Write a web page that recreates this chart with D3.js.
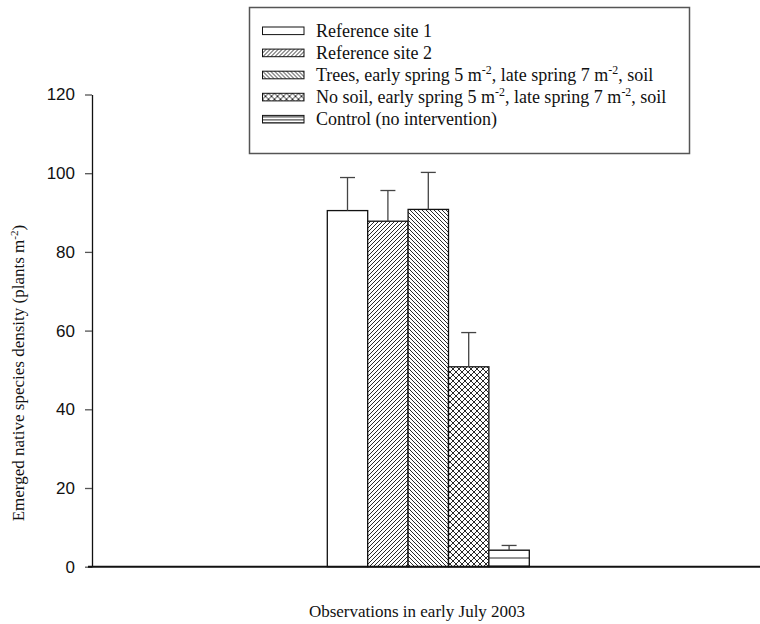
<!DOCTYPE html>
<html>
<head>
<meta charset="utf-8">
<script src="https://cdn.jsdelivr.net/npm/d3@7"></script>
<style>
  body { margin: 0; background: #fff; }
  svg { display: block; }
</style>
</head>
<body>
<svg id="chart" width="760" height="624"></svg>
<script>
// values
var series = [
    "Reference site 1",
    "Reference site 2",
    "Trees, early spring 5 m-2, late spring 7 m-2, soil",
    "No soil, early spring 5 m-2, late spring 7 m-2, soil",
    "Control (no intervention)"
];
var means = [90.5, 87.8, 90.8, 50.8, 4.2];
var errs = [8.4, 7.8, 9.4, 8.7, 1.2];
var fills = ["none", "diagUp", "diagDown", "cross", "hline"];
var yTicks = [0, 20, 40, 60, 80, 100, 120];
var xTitle = "Observations in early July 2003";
var yTitle = "Emerged native species density (plants m-2)";

var svg = d3.select("#chart");
var x0 = 92, x1 = 760;

var scY = d3.scaleLinear().domain([0, 120]).range([566.7, 94.5]);
var scX = d3.scaleBand().domain(series).range([327.3, 529.3]).padding(0);

// hatch patterns
var defs = svg.append("defs");
function pat(id, w, h, d, y) {
    var p = defs.append("pattern").attr("id", id)
        .attr("patternUnits", "userSpaceOnUse")
        .attr("width", w).attr("height", h).attr("y", y || 0);
    p.append("rect").attr("width", w).attr("height", h).attr("fill", "#fff");
    p.append("path").attr("d", d).attr("stroke", "#111").attr("stroke-width", 0.9).attr("fill", "none");
}
pat("diagUp", 4, 4, "M-1,1 l2,-2 M0,4 l4,-4 M3,5 l2,-2");
pat("diagDown", 4, 4, "M-1,3 l2,2 M0,0 l4,4 M3,-1 l2,2");
pat("cross", 6, 6, "M0,0 l6,6 M6,0 l-6,6");
pat("hline", 10, 8, "M0,6 h10", 0);
pat("hlineSmall", 10, 3, "M0,1.5 h10", 0);

function fillOf(f) { return f == "none" ? "#fff" : "url(#" + f + ")"; }

// y axis
var yAxis = svg.append("g")
    .attr("transform", "translate(" + x0 + ",0)")
    .call(d3.axisLeft(scY).tickValues(yTicks).tickSize(7).tickSizeOuter(0).tickPadding(10));
yAxis.select(".domain").attr("stroke", "#111").attr("stroke-width", 1.3);
yAxis.selectAll(".tick line").attr("stroke", "#555").attr("stroke-width", 1.3);
yAxis.selectAll(".tick text")
    .attr("font-family", "Liberation Sans, Arial, sans-serif")
    .attr("font-size", 17).attr("fill", "#111");

// bars
svg.selectAll("rect.bar")
    .data(series)
    .enter()
    .append("rect")
    .attr("class", "bar")
    .attr("x", d => scX(d))
    .attr("width", scX.bandwidth())
    .attr("y", (d, i) => scY(means[i]))
    .attr("height", (d, i) => scY(0) - scY(means[i]))
    .attr("fill", (d, i) => fillOf(fills[i]))
    .attr("stroke", "#111")
    .attr("stroke-width", 1.3);

// error bars (upper only)
var eb = svg.selectAll("g.err").data(series).enter().append("g").attr("class", "err");
eb.append("line")
    .attr("x1", d => scX(d) + scX.bandwidth() / 2).attr("x2", d => scX(d) + scX.bandwidth() / 2)
    .attr("y1", (d, i) => scY(means[i])).attr("y2", (d, i) => scY(means[i] + errs[i]))
    .attr("stroke", "#444").attr("stroke-width", 1.3);
eb.append("line")
    .attr("x1", d => scX(d) + scX.bandwidth() / 2 - 7.5).attr("x2", d => scX(d) + scX.bandwidth() / 2 + 7.5)
    .attr("y1", (d, i) => scY(means[i] + errs[i])).attr("y2", (d, i) => scY(means[i] + errs[i]))
    .attr("stroke", "#444").attr("stroke-width", 1.3);

// x baseline
svg.append("line")
    .attr("x1", x0 - 4).attr("x2", x1)
    .attr("y1", scY(0)).attr("y2", scY(0))
    .attr("stroke", "#111").attr("stroke-width", 2);

// text with "-2" superscripts
function supText(sel, str, big) {
    var up = Math.round(big * 0.38);
    var parts = str.split("-2");
    parts.forEach(function (p, i) {
        sel.append("tspan").text(p).attr("dy", i == 0 ? 0 : up).attr("font-size", big);
        if (i < parts.length - 1) {
            sel.append("tspan").text("-2").attr("dy", -up).attr("font-size", big * 0.66);
        }
    });
}

// axis titles
svg.append("text")
    .attr("x", 417).attr("y", 617)
    .attr("text-anchor", "middle")
    .attr("font-family", "Liberation Serif, Times New Roman, serif")
    .attr("font-size", 17).attr("fill", "#111")
    .text(xTitle);

var yt = svg.append("text")
    .attr("transform", "translate(24,373) rotate(-90)")
    .attr("text-anchor", "middle")
    .attr("font-family", "Liberation Serif, Times New Roman, serif")
    .attr("fill", "#111");
supText(yt, yTitle, 17);

// legend
var lg = svg.append("g");
lg.append("rect")
    .attr("x", 249.5).attr("y", 7.5).attr("width", 440).attr("height", 146)
    .attr("fill", "#fff").attr("stroke", "#555").attr("stroke-width", 1.5);

var rows = lg.selectAll("g.row").data(series).enter().append("g")
    .attr("class", "row")
    .attr("transform", (d, i) => "translate(262.5," + (27 + i * 22.1) + ")");
rows.append("rect")
    .attr("width", 41.5).attr("height", 7.6)
    .attr("fill", (d, i) => fills[i] == "hline" ? "url(#hlineSmall)" : fillOf(fills[i]))
    .attr("stroke", "#111").attr("stroke-width", 1);
rows.each(function (d) {
    var t = d3.select(this).append("text")
        .attr("x", 53.5).attr("y", 10)
        .attr("font-family", "Liberation Serif, Times New Roman, serif")
        .attr("fill", "#111");
    supText(t, d, 18);
});
</script>
</body>
</html>
